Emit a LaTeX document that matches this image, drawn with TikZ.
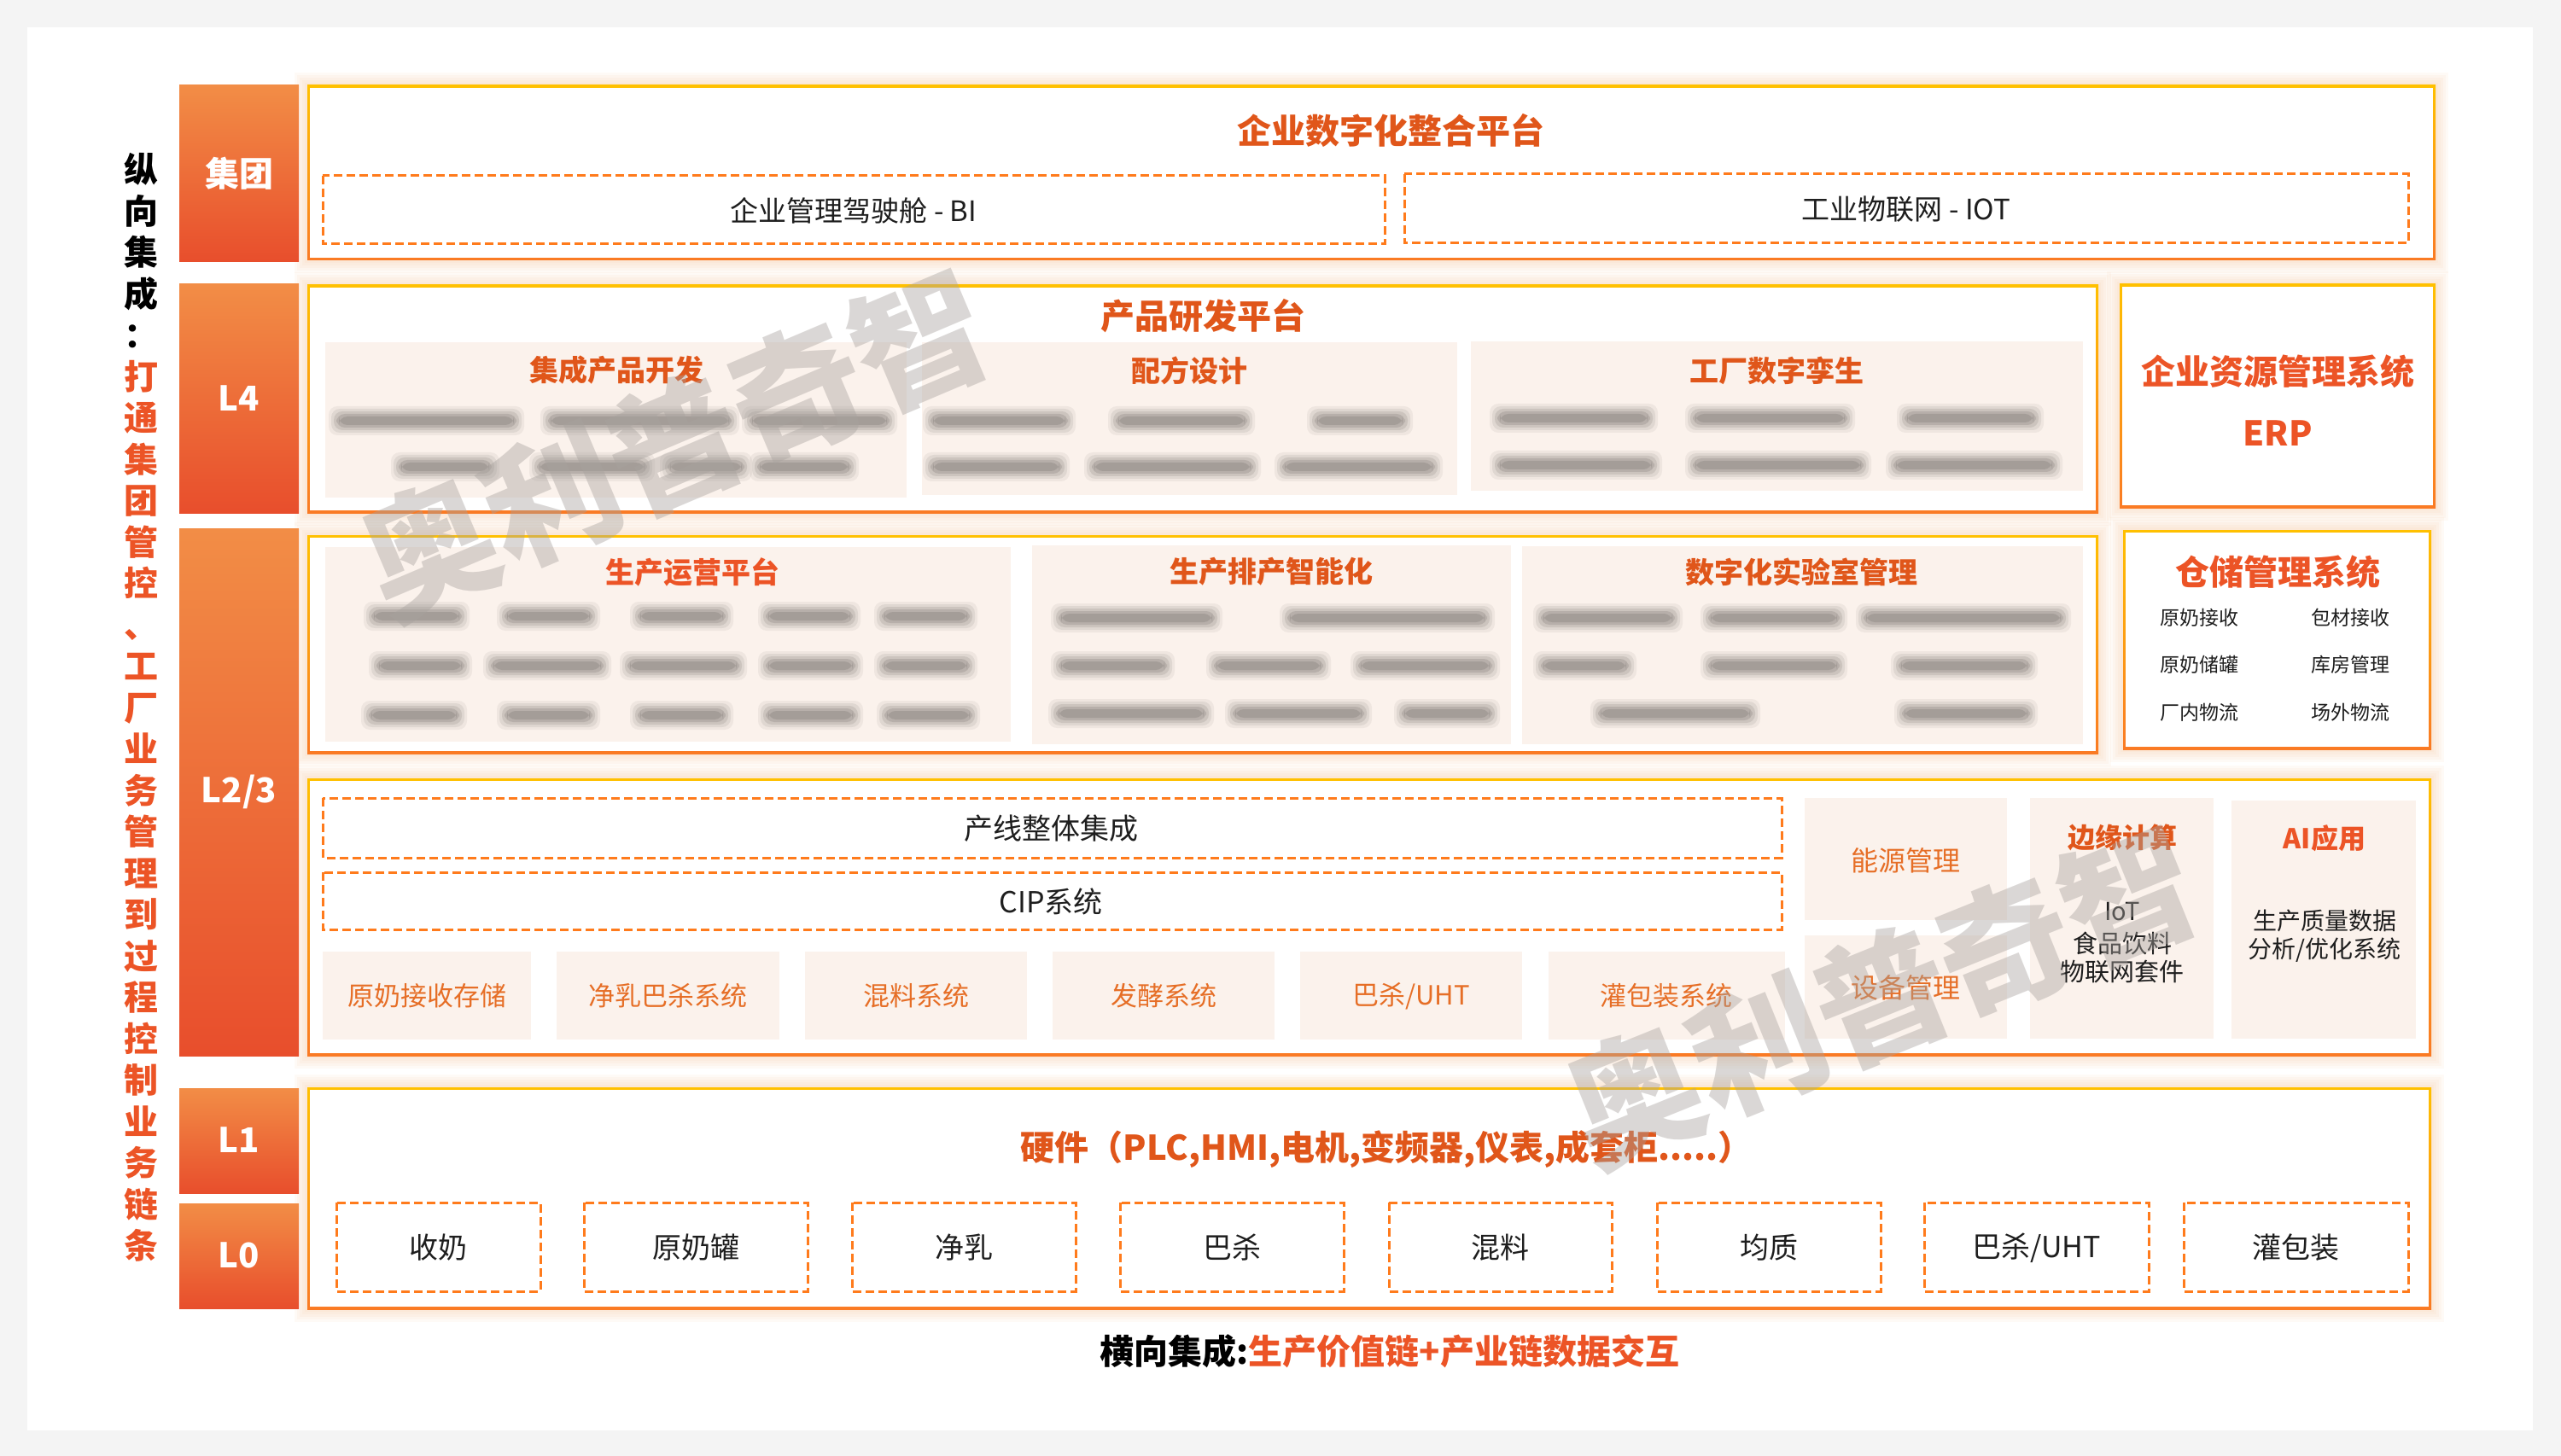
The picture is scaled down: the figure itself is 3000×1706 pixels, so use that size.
\documentclass[tikz,border=0pt]{standalone}
\usepackage{fontspec}
\setmainfont{Noto Sans CJK SC}
\definecolor{bgg}{HTML}{F4F4F4}
\definecolor{lvTop}{HTML}{F28D46}
\definecolor{lvBot}{HTML}{E84E2C}
\definecolor{bdTop}{HTML}{FFC000}
\definecolor{bdBot}{HTML}{FA7A24}
\definecolor{glowc}{HTML}{FBA25E}
\definecolor{dashc}{HTML}{FF7B1C}
\definecolor{peach}{HTML}{FBF2EC}
\definecolor{ttlc}{HTML}{E0561A}
\definecolor{redc}{HTML}{EC5426}
\definecolor{itmc}{HTML}{E66E26}
\definecolor{dark}{HTML}{1E1E1E}
\definecolor{blurc}{HTML}{5A5550}
\definecolor{wmc}{HTML}{A8A29E}
\newcommand\myfs[1]{\fontsize{#1pt}{#1pt}\selectfont}
\newcommand\glowbox[4]{%
  \foreach \k in {3,6,9,12,15}{\fill[glowc, fill opacity=0.05] ({#1-\k},{#2-\k}) rectangle ({#3+\k},{#4+\k});}}
\newcommand\gbox[4]{%
  \shade[top color=bdTop, bottom color=bdBot] (#1,#2) rectangle (#3,#4);
  \fill[white] ({#1+3},{#2+3}) rectangle ({#3-3},{#4-3});}
\newcommand\bbar[3]{%
  \foreach \r/\o in {17/0.07, 14/0.10, 11/0.14, 8/0.18, 5/0.2}{%
    \fill[blurc, opacity=\o, rounded corners=5pt] ({#1+6-\r},{#3-\r}) rectangle ({#2-6+\r},{#3+\r});}}
\begin{document}
\begin{tikzpicture}[x=0.5pt,y=-0.5pt,
  every node/.style={inner sep=0pt, outer sep=0pt},
  dbox/.style={draw=dashc, line width=1.5pt, dash pattern=on 5pt off 2.5pt},
  lvtxt/.style={text=white, font=\myfs{20}\bfseries},
  bigttl/.style={text=ttlc, font=\myfs{20}\bfseries},
  subttl/.style={text=ttlc, font=\myfs{17}\bfseries},
  body/.style={text=dark, font=\myfs{17}},
  item/.style={text=itmc, font=\myfs{15.5}},
  small/.style={text=dark, font=\myfs{14.5}},
  tiny/.style={text=dark, font=\myfs{11.5}},
  wm/.style={text=wmc, text opacity=0.42, font=\myfs{78}\bfseries}]
\useasboundingbox (0,0) rectangle (3000,1706);
\fill[bgg] (0,0) rectangle (3000,1706);
\fill[white] (32,32) rectangle (2967,1676);

% glows
\glowbox{360}{100}{2853}{305}
\glowbox{360}{334}{2458}{601}
\glowbox{2483}{333}{2853}{595}
\glowbox{360}{627}{2458}{883}
\glowbox{2487}{621}{2848}{878}
\glowbox{360}{912}{2848}{1237}
\glowbox{360}{1274}{2848}{1534}

% main boxes
\gbox{360}{100}{2853}{305}
\gbox{360}{334}{2458}{601}
\gbox{2483}{333}{2853}{595}
\gbox{360}{627}{2458}{883}
\gbox{2487}{621}{2848}{878}
\gbox{360}{912}{2848}{1237}
\gbox{360}{1274}{2848}{1534}

% level column
\shade[top color=lvTop, bottom color=lvBot] (210,100) rectangle (350,307);
\shade[top color=lvTop, bottom color=lvBot] (210,333) rectangle (350,601);
\shade[top color=lvTop, bottom color=lvBot] (210,619) rectangle (350,1237);
\shade[top color=lvTop, bottom color=lvBot] (210,1275) rectangle (350,1398);
\shade[top color=lvTop, bottom color=lvBot] (210,1410) rectangle (350,1533);
\node[lvtxt] (lvG) at (280,203) {集团};
\node[lvtxt] (lv4) at (280,467) {L4};
\node[lvtxt] (lv23) at (280,928) {L2/3};
\node[lvtxt] (lv1) at (280,1336) {L1};
\node[lvtxt] (lv0) at (280,1471) {L0};

% vertical left text
\node[text=redc, font=\myfs{20}\bfseries, align=center, execute at begin node={\setlength{\baselineskip}{24.25pt}}] (vt) at (165,829)
{\textcolor{black}{纵}\\\textcolor{black}{向}\\\textcolor{black}{集}\\\textcolor{black}{成}\\\textcolor{black}{：}\\打\\通\\集\\团\\管\\控\\、\\工\\厂\\业\\务\\管\\理\\到\\过\\程\\控\\制\\业\\务\\链\\条};

% Group level
\node[bigttl] (tG) at (1629,153) {企业数字化整合平台};
\draw[dbox] (378,206) rectangle (1622,286);
\draw[dbox] (1645,204) rectangle (2821,285);
\node[body, font=\myfs{16.5}] (tBI) at (1000,247) {企业管理驾驶舱 - BI};
\node[body, font=\myfs{16.5}] (tIOT) at (2233,245) {工业物联网 - IOT};

% L4
\node[bigttl] (tL4) at (1409,370) {产品研发平台};
\fill[peach] (381,401) rectangle (1062,583);
\fill[peach] (1080,401) rectangle (1707,580);
\fill[peach] (1723,400) rectangle (2440,575);
\node[subttl] (tP1) at (722,434) {集成产品开发};
\node[subttl] (tP2) at (1393,434) {配方设计};
\node[subttl] (tP3) at (2081,434) {工厂数字孪生};
\foreach \a/\b/\c in {396/603/493, 644/855/493, 880/1040/493,
  469/574/547, 631/756/547, 784/870/547, 889/995/547,
  1092/1249/493, 1309/1459/493, 1542/1644/493,
  1092/1242/547, 1281/1466/547, 1504/1679/547,
  1756/1931/490, 1985/2162/490, 2233/2383/490,
  1756/1936/545, 1985/2181/545, 2220/2405/545}{\bbar{\a}{\b}{\c}}
\node[text=redc, font=\myfs{20}\bfseries] (tERP1) at (2668,435) {企业资源管理系统};
\node[text=redc, font=\myfs{20}\bfseries] (tERP2) at (2668,508) {ERP};

% L2/3 upper
\fill[peach] (381,641) rectangle (1184,869);
\fill[peach] (1209,639) rectangle (1770,872);
\fill[peach] (1783,640) rectangle (2440,872);
\node[subttl, text=redc] (tPA) at (811,670) {生产运营平台};
\node[subttl] (tPB) at (1489,670) {生产排产智能化};
\node[subttl] (tPC) at (2110,670) {数字化实验室管理};
\foreach \a/\b/\c in {437/539/722, 593/692/722, 749/848/722, 899/997/722, 1035/1134/722,
  443/542/780, 577/705/780, 737/864/780, 899/1000/780, 1035/1134/780,
  434/536/838, 593/692/838, 749/848/838, 899/1000/838, 1038/1137/838,
  1242/1421/724, 1510/1740/724,
  1242/1365/780, 1424/1548/780, 1593/1746/780,
  1239/1411/836, 1446/1596/836, 1644/1746/836,
  1807/1960/724, 2003/2153/724, 2185/2415/724,
  1807/1906/780, 2003/2153/780, 2226/2376/780,
  1874/2051/836, 2230/2376/836}{\bbar{\a}{\b}{\c}}
\node[text=redc, font=\myfs{20}\bfseries] (tW) at (2668,670) {仓储管理系统};
\node[tiny] (w1) at (2576,724) {原奶接收};
\node[tiny] (w2) at (2753,724) {包材接收};
\node[tiny] (w3) at (2576,779) {原奶储罐};
\node[tiny] (w4) at (2753,779) {库房管理};
\node[tiny] (w5) at (2576,835) {厂内物流};
\node[tiny] (w6) at (2753,835) {场外物流};

% L2/3 lower
\draw[dbox] (378,935) rectangle (2087,1005);
\draw[dbox] (378,1022) rectangle (2087,1089);
\node[body] (tLine) at (1231,971) {产线整体集成};
\node[body] (tCIP) at (1231,1056) {CIP系统};
\fill[peach] (378,1115) rectangle (622,1218);
\fill[peach] (652,1115) rectangle (913,1218);
\fill[peach] (943,1115) rectangle (1203,1218);
\fill[peach] (1233,1115) rectangle (1493,1218);
\fill[peach] (1523,1115) rectangle (1783,1218);
\fill[peach] (1814,1115) rectangle (2091,1218);
\node[item] (s1) at (500,1167) {原奶接收存储};
\node[item] (s2) at (782,1167) {净乳巴杀系统};
\node[item] (s3) at (1073,1167) {混料系统};
\node[item] (s4) at (1363,1167) {发酵系统};
\node[item] (s5) at (1653,1167) {巴杀/UHT};
\node[item] (s6) at (1952,1167) {灌包装系统};
\fill[peach] (2114,935) rectangle (2351,1078);
\fill[peach] (2114,1096) rectangle (2351,1217);
\fill[peach] (2378,935) rectangle (2593,1217);
\fill[peach] (2614,938) rectangle (2830,1217);
\node[item, font=\myfs{16}] (e1) at (2232,1008) {能源管理};
\node[item, font=\myfs{16}] (e2) at (2232,1157) {设备管理};
\node[subttl, font=\myfs{16}\bfseries] (edge) at (2486,981) {边缘计算};
\node[small] (edge1) at (2486,1068) {IoT};
\node[small] (edge2) at (2486,1105) {食品饮料};
\node[small] (edge3) at (2486,1139) {物联网套件};
\node[subttl, font=\myfs{16}\bfseries, text=redc] (ai) at (2723,982) {AI应用};
\node[small, font=\myfs{14}] (ai1) at (2723,1079) {生产质量数据};
\node[small, font=\myfs{14}] (ai2) at (2723,1113) {分析/优化系统};

% L1/L0
\node[bigttl] (tHW) at (1624,1347) {硬件（PLC,HMI,电机,变频器,仪表,成套柜.....）};
\foreach \a/\b/\n/\t in {394/633/b1/{收奶}, 684/946/b2/{原奶罐}, 998/1260/b3/{净乳}, 1312/1574/b4/{巴杀},
  1627/1888/b5/{混料}, 1941/2203/b6/{均质}, 2254/2517/b7/{巴杀/UHT}, 2558/2821/b8/{灌包装}}{
  \draw[dbox] (\a,1409) rectangle (\b,1513);
  \node[body] (\n) at ({(\a+\b)/2},1462) {\t};}

% caption
\node[font=\myfs{20}\bfseries, text=black] (cap) at (1628,1583) {横向集成:\textcolor{redc}{生产价值链+产业链数据交互}};

% watermarks
\node[wm, rotate=23] (wm1) at (790,520) {奥利普奇智};
\node[wm, rotate=22] (wm2) at (2204,1167) {奥利普奇智};
\end{tikzpicture}
\end{document}
